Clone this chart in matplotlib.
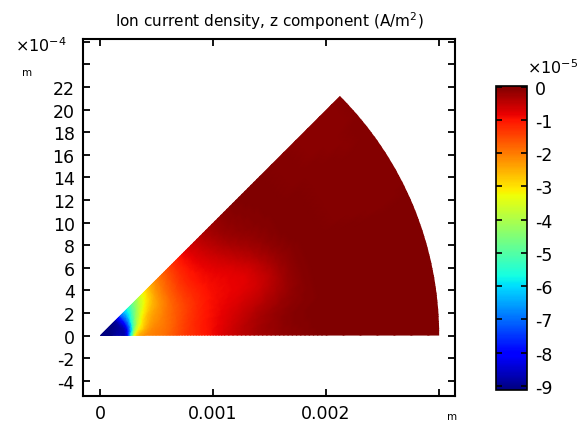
import numpy as np
import matplotlib
matplotlib.use("Agg")
import matplotlib.pyplot as plt
import matplotlib.tri as mtri
from matplotlib.patches import Wedge

plt.rcParams['axes.unicode_minus'] = False
plt.rcParams['font.family'] = 'DejaVu Sans'

# sample rings (mm) and angles (deg) over the sector, values in 1e-5 A/m^2
radii_mm = [0.1, 0.2, 0.25, 0.3, 0.35, 0.4, 0.5, 0.6, 0.7, 0.9, 1.1, 1.4, 1.7, 2.0, 3.2]
angles_deg = [0, 9, 18, 27, 36, 45]
jz = [
    [-9.1, -9.1, -9.1, -9.1, -9.1, -9.0],
    [-8.8, -8.8, -8.8, -8.7, -8.6, -8.5],
    [-7.6, -7.8, -7.8, -7.6, -7.4, -7.2],
    [-3.6, -4.8, -5.5, -5.9, -6.2, -6.2],
    [-2.5, -3.1, -3.8, -4.4, -5.1, -5.5],
    [-2.2, -2.6, -3.0, -3.5, -4.2, -4.8],
    [-2.0, -2.1, -2.3, -2.6, -3.1, -3.6],
    [-1.8, -1.9, -2.0, -2.2, -2.4, -2.7],
    [-1.5, -1.6, -1.7, -1.8, -1.9, -2.1],
    [-1.1, -1.1, -1.2, -1.2, -1.2, -1.3],
    [-0.7, -0.8, -0.9, -0.9, -0.8, -0.7],
    [-0.3, -0.4, -0.7, -0.6, -0.3, -0.2],
    [-0.1, -0.1, -0.25, -0.15, -0.05, 0.0],
    [0.0, 0.0, 0.0, 0.0, 0.0, 0.0],
    [0.0, 0.0, 0.0, 0.0, 0.0, 0.0],
]
jz_tip = -9.12
jz_min, jz_max = -9.12, 0.02
sector_r = 0.003
sector_deg = 45

xticks = [0, 0.001, 0.002, 0.003]
xlabels = ["0", "0.001", "0.002", ""]
yticks = list(range(-4, 27, 2))
ylabels = [str(v) if v <= 22 else "" for v in yticks]

# build mesh
px = [0.0]
py = [0.0]
pz = [jz_tip]
for i, r in enumerate(radii_mm):
    for j, a in enumerate(angles_deg):
        px.append(r * 1e-3 * np.cos(np.deg2rad(a)))
        py.append(r * 1e-3 * np.sin(np.deg2rad(a)))
        pz.append(jz[i][j])
na = len(angles_deg)
tris = []
for j in range(na - 1):
    tris.append([0, 1 + j, 2 + j])
for i in range(len(radii_mm) - 1):
    for j in range(na - 1):
        p = 1 + i * na + j
        q = p + na
        tris.append([p, p + 1, q + 1])
        tris.append([p, q + 1, q])

tri = mtri.Triangulation(px, py, tris)
tri2, z2 = mtri.UniformTriRefiner(tri).refine_field(np.array(pz), subdiv=3)

fig = plt.figure(figsize=(5.81, 4.27), dpi=100)
ax = fig.add_axes([83 / 581, 1 - 397 / 427, 372 / 581, 357 / 427])

tpc = ax.tripcolor(tri2, z2, shading='gouraud', cmap='jet', vmin=jz_min, vmax=jz_max)
clip = Wedge((0, 0), sector_r, 0, sector_deg, transform=ax.transData)
tpc.set_clip_path(clip)

ax.set_xlim(-0.00015, 0.00314)
ax.set_ylim(-0.000535, 0.002625)
ax.set_xticks(xticks)
ax.set_xticklabels(xlabels)
ax.set_yticks([v * 1e-4 for v in yticks])
ax.set_yticklabels(ylabels)
ax.tick_params(direction='in', top=True, right=True, length=5, width=1.3,
               labelsize=12.5, pad=6)
for s in ax.spines.values():
    s.set_linewidth(1.5)

ax.set_title("Ion current density, z component (A/m$^2$)", fontsize=11, pad=9)

fig.text(15 / 581, 1 - 52 / 427, r"$\times$10$^{-4}$", fontsize=11.5, va='baseline')
fig.text(22 / 581, 1 - 73 / 427, "m", fontsize=7.5, va='center')
fig.text(452 / 581, 1 - 417 / 427, "m", fontsize=7.5, va='center', ha='center')

cax = fig.add_axes([496 / 581, 1 - 391 / 427, 31 / 581, 304 / 427])
cb = fig.colorbar(tpc, cax=cax, ticks=list(range(-9, 1)))
cb.ax.tick_params(direction='in', left=True, right=True, length=4, width=1.2,
                  labelsize=12.5, pad=6)
cb.outline.set_linewidth(1.2)
fig.text(527 / 581, 1 - 74 / 427, r"$\times$10$^{-5}$", fontsize=11.5, va='baseline')

fig.savefig("out.png", dpi=100)
